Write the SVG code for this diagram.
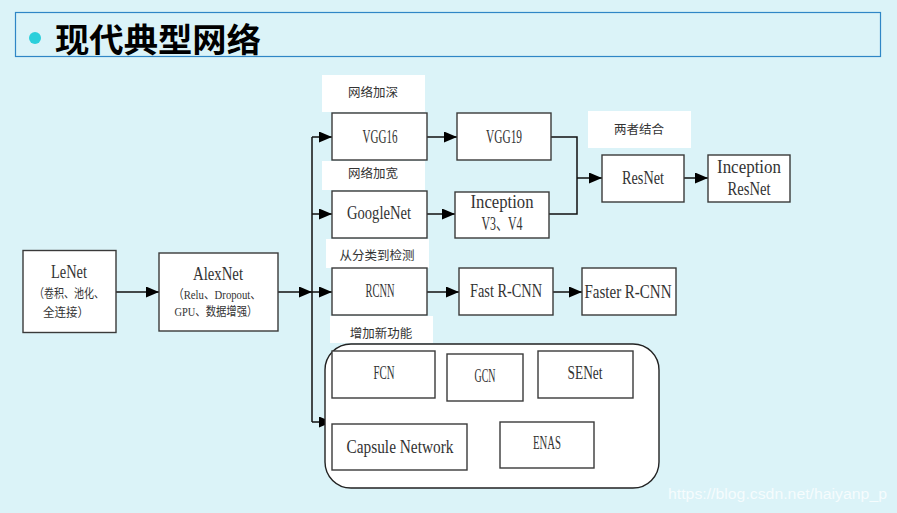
<svg xmlns="http://www.w3.org/2000/svg" width="897" height="513" viewBox="0 0 897 513">
<style>
.bx{fill:#fff;stroke:#3a3a3a;stroke-width:1.4}
.lb{fill:#fff;stroke:none}
.t{font-family:"Liberation Serif","Noto Sans CJK SC",serif;font-size:18px;fill:#333;text-anchor:middle}
.s{font-family:"Liberation Serif","Noto Sans CJK SC",serif;font-size:12.5px;fill:#333;text-anchor:middle}
.c{font-family:"Noto Sans CJK SC",sans-serif;font-size:12.5px;fill:#333;text-anchor:middle}
.ln{fill:none;stroke:#111;stroke-width:1.5}
</style>
<defs>
<marker id="ar" viewBox="0 0 13 11" refX="13" refY="5.5" markerWidth="13" markerHeight="11" markerUnits="userSpaceOnUse" orient="auto">
<path d="M0,0 L13,5.5 L0,11 Z" fill="#000"/>
</marker>
</defs>
<rect x="0" y="0" width="897" height="513" fill="#DBF3F8"/>
<g id="title">
<rect x="15.5" y="12.5" width="865" height="44" fill="#DBF3F8" stroke="#2F86C6" stroke-width="1.2"/>
<circle cx="35" cy="38" r="6" fill="#2BCFDB"/>
<text x="55" y="52" font-family="Noto Sans CJK SC,sans-serif" font-size="33" font-weight="bold" fill="#000" textLength="206" lengthAdjust="spacingAndGlyphs">现代典型网络</text>
</g>
<g id="labels">
<rect class="lb" x="322" y="75" width="103" height="37"/>
<text class="c" x="373" y="97">网络加深</text>
<rect class="lb" x="322" y="161" width="103" height="29"/>
<text class="c" x="373" y="178">网络加宽</text>
<rect class="lb" x="326" y="239" width="103" height="29"/>
<text class="c" x="377" y="260">从分类到检测</text>
<rect class="lb" x="330" y="316" width="103" height="27"/>
<text class="c" x="381" y="338">增加新功能</text>
<rect class="lb" x="588" y="111" width="103" height="37"/>
<text class="c" x="639" y="134">两者结合</text>
</g>
<g id="connectors">
<path class="ln" d="M116,292 H159" marker-end="url(#ar)"/>
<path class="ln" d="M277,292 H312" marker-end="url(#ar)"/>
<path class="ln" d="M312,292 H332" marker-end="url(#ar)"/>
<path class="ln" d="M312,137 V422"/>
<path class="ln" d="M312,137 H332" marker-end="url(#ar)"/>
<path class="ln" d="M312,214 H332" marker-end="url(#ar)"/>
<path class="ln" d="M312,422 H332" marker-end="url(#ar)"/>
<path class="ln" d="M427,137 H457" marker-end="url(#ar)"/>
<path class="ln" d="M427,214 H455" marker-end="url(#ar)"/>
<path class="ln" d="M551,137 H577 V214 H549"/>
<path class="ln" d="M577,178 H602" marker-end="url(#ar)"/>
<path class="ln" d="M684,178 H708" marker-end="url(#ar)"/>
<path class="ln" d="M427,292 H459" marker-end="url(#ar)"/>
<path class="ln" d="M553,292 H582" marker-end="url(#ar)"/>
</g>
<g id="lenet">
<rect class="bx" x="23" y="250.5" width="93" height="82"/>
<text class="t" x="69" y="278" textLength="36" lengthAdjust="spacingAndGlyphs">LeNet</text>
<text class="s" x="69" y="298" textLength="70" lengthAdjust="spacingAndGlyphs">（卷积、池化、</text>
<text class="s" x="66" y="317" textLength="46" lengthAdjust="spacingAndGlyphs">全连接）</text>
</g>
<g id="alexnet">
<rect class="bx" x="159" y="253" width="119" height="78"/>
<text class="t" x="218" y="280" textLength="50" lengthAdjust="spacingAndGlyphs">AlexNet</text>
<text class="s" x="217" y="299" textLength="88" lengthAdjust="spacingAndGlyphs">（Relu、Dropout、</text>
<text class="s" x="216" y="316" textLength="83" lengthAdjust="spacingAndGlyphs">GPU、数据增强）</text>
</g>
<g id="vgg16">
<rect class="bx" x="332" y="113" width="95" height="47"/>
<text class="t" x="380" y="143" textLength="35" lengthAdjust="spacingAndGlyphs">VGG16</text>
</g>
<g id="vgg19">
<rect class="bx" x="457" y="113" width="94" height="47"/>
<text class="t" x="504" y="143" textLength="36" lengthAdjust="spacingAndGlyphs">VGG19</text>
</g>
<g id="googlenet">
<rect class="bx" x="332" y="191" width="95" height="47"/>
<text class="t" x="379" y="219" textLength="64" lengthAdjust="spacingAndGlyphs">GoogleNet</text>
</g>
<g id="inception">
<rect class="bx" x="455" y="192" width="94" height="46"/>
<text class="t" x="502" y="208" textLength="63" lengthAdjust="spacingAndGlyphs">Inception</text>
<text class="t" x="502" y="230" textLength="41" lengthAdjust="spacingAndGlyphs">V3、V4</text>
</g>
<g id="resnet">
<rect class="bx" x="602" y="155" width="82" height="47"/>
<text class="t" x="643" y="184" textLength="42" lengthAdjust="spacingAndGlyphs">ResNet</text>
</g>
<g id="inception-resnet">
<rect class="bx" x="708" y="155" width="82" height="47"/>
<text class="t" x="749" y="173" textLength="64" lengthAdjust="spacingAndGlyphs">Inception</text>
<text class="t" x="749" y="195" textLength="43" lengthAdjust="spacingAndGlyphs">ResNet</text>
</g>
<g id="rcnn">
<rect class="bx" x="332" y="268" width="95" height="47"/>
<text class="t" x="380" y="297" textLength="29" lengthAdjust="spacingAndGlyphs">RCNN</text>
</g>
<g id="fast-rcnn">
<rect class="bx" x="459" y="268" width="94" height="47"/>
<text class="t" x="506" y="297" textLength="72" lengthAdjust="spacingAndGlyphs">Fast R-CNN</text>
</g>
<g id="faster-rcnn">
<rect class="bx" x="582" y="268" width="94" height="47"/>
<text class="t" x="628" y="298" textLength="87" lengthAdjust="spacingAndGlyphs">Faster R-CNN</text>
</g>
<g id="new-features">
<rect x="325" y="344" width="334" height="144" rx="26" ry="26" fill="#fff" stroke="#222" stroke-width="1.4"/>
</g>
<g id="fcn">
<rect class="bx" x="332" y="351" width="103" height="47"/>
<text class="t" x="384" y="379" textLength="21" lengthAdjust="spacingAndGlyphs">FCN</text>
</g>
<g id="gcn">
<rect class="bx" x="447" y="354" width="76" height="47"/>
<text class="t" x="485" y="382" textLength="21" lengthAdjust="spacingAndGlyphs">GCN</text>
</g>
<g id="senet">
<rect class="bx" x="538" y="351" width="95" height="47"/>
<text class="t" x="585" y="379" textLength="35" lengthAdjust="spacingAndGlyphs">SENet</text>
</g>
<g id="capsule">
<rect class="bx" x="332" y="424" width="135" height="46"/>
<text class="t" x="400" y="453" textLength="107" lengthAdjust="spacingAndGlyphs">Capsule Network</text>
</g>
<g id="enas">
<rect class="bx" x="500" y="422" width="94" height="46"/>
<text class="t" x="547" y="449" textLength="28" lengthAdjust="spacingAndGlyphs">ENAS</text>
</g>
<text x="668" y="499" font-family="Liberation Sans,Arial,sans-serif" font-size="14" fill="#fff" fill-opacity="0.75" textLength="219" lengthAdjust="spacingAndGlyphs">https://blog.csdn.net/haiyanp_p</text>
</svg>
